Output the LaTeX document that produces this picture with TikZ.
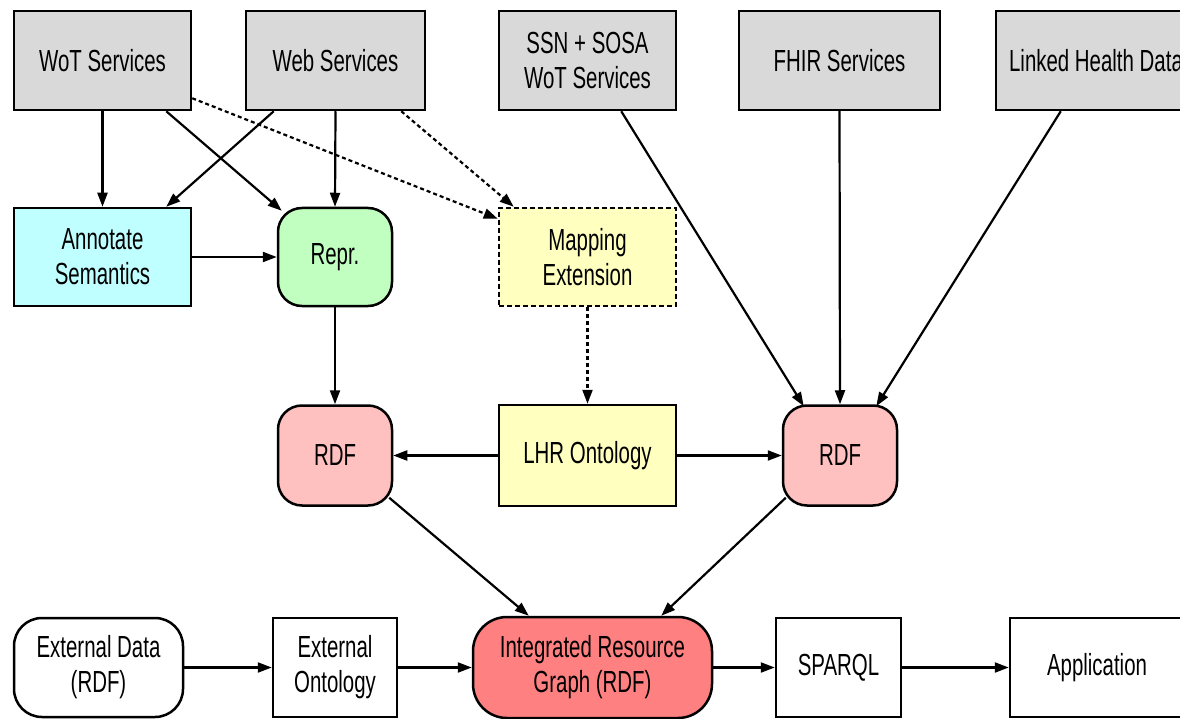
\documentclass[tikz,border=0pt]{standalone}
\usepackage{fontspec}
\newfontfamily\condfont{Liberation Sans}[FakeStretch=0.67]
\usetikzlibrary{arrows.meta}
\definecolor{gbox}{HTML}{D9D9D9}
\definecolor{cbox}{HTML}{C0FFFF}
\definecolor{grbox}{HTML}{C0FFC0}
\definecolor{ybox}{HTML}{FFFFC0}
\definecolor{pbox}{HTML}{FFC0C0}
\definecolor{rbox}{HTML}{FF8080}
\tikzset{
  base/.style={draw=black, line width=2.5pt, align=center, inner sep=0pt,
    font=\condfont\fontsize{30.5}{35}\selectfont, text=black},
  gray box/.style={base, fill=gbox, minimum height=99pt},
  plainbox/.style={base, fill=white, minimum height=99pt},
  rbx/.style={base, rounded corners=24pt, minimum height=100pt},
  conn/.style={line width=2.2pt, -{Triangle[length=14pt,width=10pt]}},
  dconn/.style={conn, dash pattern=on 4pt off 3pt},
}
\begin{document}
\begin{tikzpicture}[x=1pt,y=-1pt]
\useasboundingbox (0,0) rectangle (1180,719);
% top row
\node[gray box, minimum width=177pt] (wot) at (102.5,60.5) {WoT Services};
\node[gray box, minimum width=179pt] (web) at (335.5,60.5) {Web Services};
\node[gray box, minimum width=177pt] (ssn) at (587.5,60.5) {SSN + SOSA\\WoT Services};
\node[gray box, minimum width=201pt] (fhir) at (839.5,60.5) {FHIR Services};
\node[gray box, minimum width=200pt] (lhd) at (1096,60.5) {Linked Health Data};
% second row
\node[plainbox, fill=cbox, minimum width=177pt, minimum height=98pt] (annot) at (102.5,257) {Annotate\\Semantics};
\node[rbx, fill=grbox, minimum width=114pt, minimum height=98pt] (repr) at (335,257) {Repr.};
\node[plainbox, fill=ybox, dash pattern=on 5pt off 3pt, minimum width=177pt, minimum height=98pt] (map) at (587.5,257) {Mapping\\Extension};
% third row
\node[rbx, fill=pbox, minimum width=114pt] (rdfL) at (335,455.5) {RDF};
\node[plainbox, fill=ybox, minimum width=177pt, minimum height=101pt] (lhr) at (587.5,455.5) {LHR Ontology};
\node[rbx, fill=pbox, minimum width=114pt] (rdfR) at (840,455.5) {RDF};
% bottom row
\node[rbx, fill=white, rounded corners=28pt, minimum width=169pt, minimum height=99pt] (extd) at (98.5,667.5) {External Data\\(RDF)};
\node[plainbox, minimum width=124pt] (exto) at (335,667.5) {External\\Ontology};
\node[rbx, fill=rbox, rounded corners=34pt, minimum width=239pt, minimum height=101pt] (irg) at (592.5,667.5) {Integrated Resource\\Graph (RDF)};
\node[plainbox, minimum width=125pt] (sparql) at (838.5,667.5) {SPARQL};
\node[plainbox, minimum width=174pt] (app) at (1097,667.5) {Application};
% connectors
\draw[conn] (wot.south) -- (annot.north);
\draw[conn] ([xshift=-26pt]wot.south east) -- ([xshift=5pt,yshift=-4pt]repr.north west);
\draw[conn] ([xshift=29pt]web.south west) -- ([xshift=-26pt]annot.north east);
\draw[conn] (web.south) -- (repr.north);
\draw[dconn] ([yshift=13pt]wot.south east) -- ([yshift=-12pt]map.north west);
\draw[dconn] ([xshift=-25pt]web.south east) -- ([xshift=16pt]map.north west);
\draw[conn] (annot.east) -- (repr.west);
\draw[conn] (repr.south) -- (rdfL.north);
\draw[dconn] (map.south) -- (lhr.north);
\draw[conn] (lhr.west) -- (rdfL.east);
\draw[conn] (lhr.east) -- (rdfR.west);
\draw[conn] ([xshift=-56pt]ssn.south east) -- ([xshift=22pt,yshift=-2pt]rdfR.north west);
\draw[conn] (fhir.south) -- (rdfR.north);
\draw[conn] ([xshift=66pt]lhd.south west) -- ([xshift=-22pt,yshift=-2pt]rdfR.north east);
\draw[conn] ([xshift=-4pt,yshift=9pt]rdfL.south east) -- ([xshift=57pt]irg.north west);
\draw[conn] ([xshift=4pt,yshift=9pt]rdfR.south west) -- ([xshift=-52pt]irg.north east);
\draw[conn] (extd.east) -- (exto.west);
\draw[conn] (exto.east) -- (irg.west);
\draw[conn] (irg.east) -- (sparql.west);
\draw[conn] (sparql.east) -- (app.west);
\end{tikzpicture}
\end{document}
